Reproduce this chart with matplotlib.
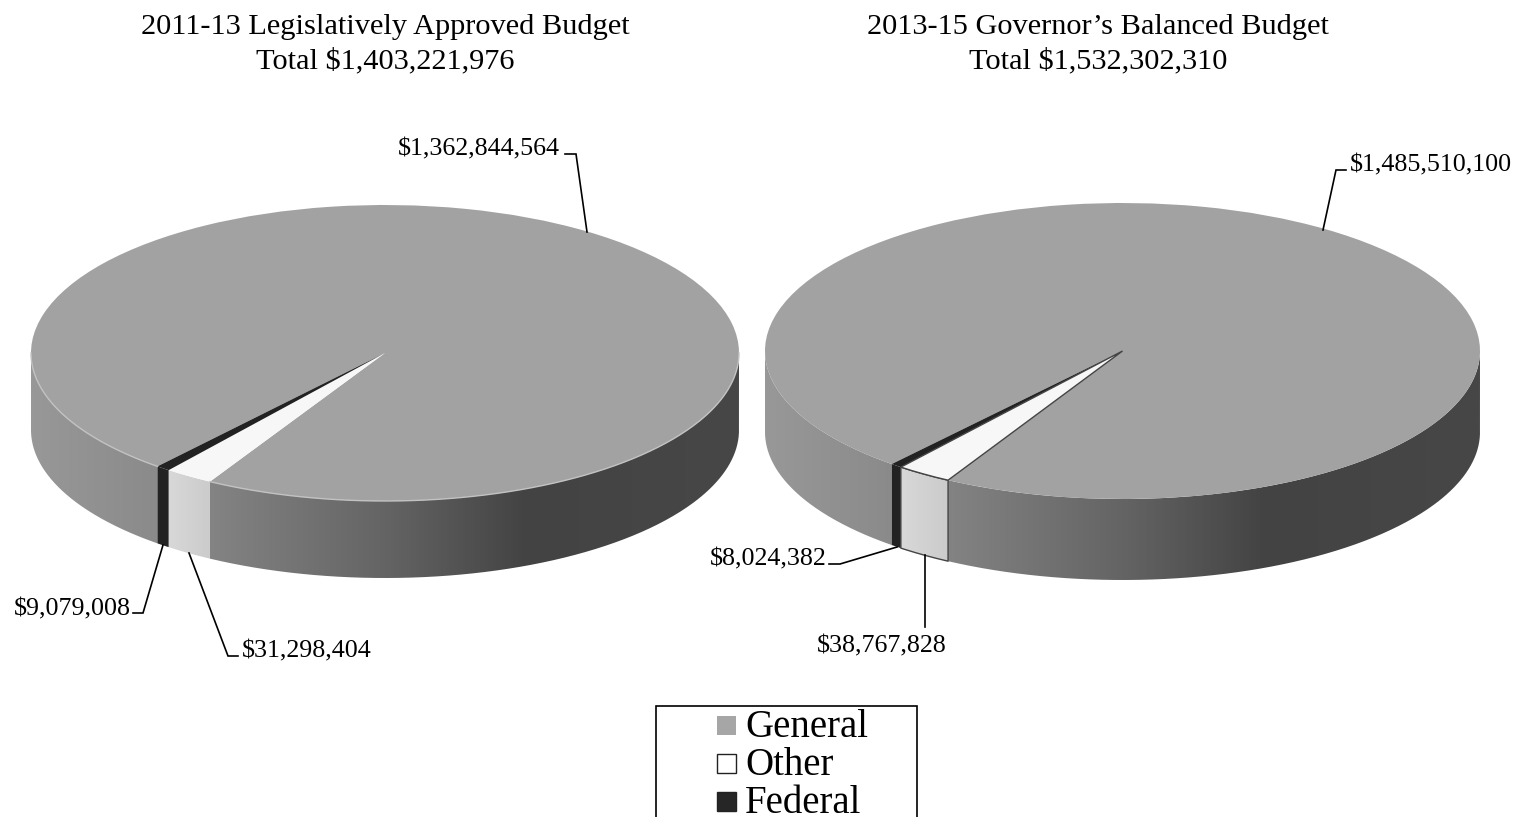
import numpy as np
import matplotlib
matplotlib.use("Agg")
import matplotlib.pyplot as plt
from matplotlib.colors import LinearSegmentedColormap
from matplotlib.patches import PathPatch, Rectangle
from matplotlib.path import Path

# Budget figures by fund
categories = ["General", "Other", "Federal"]
budget_2011_13 = [1362844564, 31298404, 9079008]
budget_2013_15 = [1485510100, 38767828, 8024382]
title_2011_13 = "2011-13 Legislatively Approved Budget"
title_2013_15 = "2013-15 Governor\u2019s Balanced Budget"

W, H = 1524, 817
TOP_COLORS = ["#a2a2a2", "#f7f7f7", "#222222"]
LEGEND_FACE = ["#a6a6a6", "#ffffff", "#262626"]

plt.rcParams["font.family"] = ["Liberation Serif"]
fig = plt.figure(figsize=(W / 100, H / 100), dpi=100, facecolor="white")

# Wall shading as a function of horizontal position across the disc
general_wall = LinearSegmentedColormap.from_list(
    "general_wall",
    [(0.00, "#989898"), (0.18, "#8a8a8a"), (0.25, "#848484"), (0.50, "#646464"),
     (0.70, "#434343"), (1.00, "#474747")],
)
other_wall = LinearSegmentedColormap.from_list(
    "other_wall", [(0.0, "#d8d8d8"), (1.0, "#cbcbcb")]
)


def draw_disc(values, start, cx, cy, rx, ry, depth, outlined, rim):
    x_pad, y_top, y_bot = 1.15, 1.15, 1.9
    ax = fig.add_axes([(cx - x_pad * rx) / W,
                       1 - (cy + y_bot * ry) / H,
                       2 * x_pad * rx / W,
                       (y_top + y_bot) * ry / H])
    wedges, _ = ax.pie(values, colors=TOP_COLORS, startangle=start, counterclock=False,
                       radius=1.0, center=(0, 0), wedgeprops={"linewidth": 0})
    for w in wedges:
        w.set_zorder(5)
    ax.set_aspect("auto")
    ax.set_xlim(-x_pad, x_pad)
    ax.set_ylim(-y_bot, y_top)
    h = depth / ry

    # Front wall: one band per slice, restricted to the near half of the disc
    grad = np.linspace(0, 1, 512).reshape(1, -1)
    for i, w in enumerate(wedges):
        lo, hi = w.theta1, w.theta2
        spans = []
        for shift in (-360, 0, 360):
            a, b = max(lo + shift, 180), min(hi + shift, 360)
            if b > a:
                spans.append((a, b))
        for a, b in spans:
            t = np.radians(np.linspace(a, b, 240))
            xs, ys = np.cos(t), np.sin(t)
            poly = np.vstack([np.c_[xs, ys], np.c_[xs[::-1], ys[::-1] - h], [[xs[0], ys[0]]]])
            patch = PathPatch(Path(poly), transform=ax.transData, facecolor="none", edgecolor="none")
            ax.add_patch(patch)
            if i == 2:
                patch.set_facecolor(TOP_COLORS[2])
                patch.set_zorder(2)
            elif i == 1:
                im = ax.imshow(grad, cmap=other_wall, extent=(xs.min(), xs.max(), -1.9, 0),
                               aspect="auto", zorder=2)
                im.set_clip_path(patch)
            else:
                im = ax.imshow(grad, cmap=general_wall, extent=(-1, 1, -1.9, 0),
                               aspect="auto", zorder=2)
                im.set_clip_path(patch)
            if outlined and i == 1:
                ax.plot(poly[:, 0], poly[:, 1], color="#444444", lw=1.0, zorder=3)
            elif rim and i == 0:
                ax.plot(xs, ys, color="#c2c2c2", lw=1.0, zorder=6)

    if outlined:
        wedges[1].set_edgecolor("#444444")
        wedges[1].set_linewidth(1.0)
        wedges[1].set_zorder(7)
    ax.set_xlim(-x_pad, x_pad)
    ax.set_ylim(-y_bot, y_top)
    ax.set_aspect("auto")
    return ax


draw_disc(budget_2011_13, 230.0, 385, 353, 354, 148, 77, False, True)
draw_disc(budget_2013_15, 229.8, 1122.5, 351, 357.5, 148, 81, True, False)

# Text, leader lines and the key share one pixel-based overlay
ov = fig.add_axes([0, 0, 1, 1], zorder=20)
ov.set_xlim(0, W)
ov.set_ylim(H, 0)
ov.axis("off")

TITLE_SIZE = 21.9
LABEL_SIZE = 18.75


def money(v):
    return f"${v:,}"


for cx, name, vals in ((385, title_2011_13, budget_2011_13), (1098, title_2013_15, budget_2013_15)):
    ov.text(cx, 26.5, name, ha="center", va="center", fontsize=TITLE_SIZE, color="black")
    ov.text(cx, 61, "Total " + money(sum(vals)), ha="center", va="center",
            fontsize=TITLE_SIZE, color="black")

labels = [
    (559.5, 149, "right", budget_2011_13[0], [(565, 154), (576, 154), (587, 232)]),
    (130.5, 609, "right", budget_2011_13[2], [(133, 613), (143, 613), (163, 545)]),
    (242, 651, "left", budget_2011_13[1], [(238, 656), (228, 656), (189, 553)]),
    (1350, 165, "left", budget_2013_15[0], [(1346, 170), (1336, 170), (1323, 230)]),
    (826.5, 559, "right", budget_2013_15[2], [(829, 564), (840, 564), (897, 547)]),
    (882, 646, "center", budget_2013_15[1], [(925, 627), (925, 555)]),
]
for x, y, ha, v, leader in labels:
    ov.text(x, y, money(v), ha=ha, va="center", fontsize=LABEL_SIZE, color="black")
    pts = np.array(leader)
    ov.plot(pts[:, 0], pts[:, 1], color="black", lw=1.2, solid_joinstyle="miter")

# Key; its frame runs past the bottom edge of the figure
ov.add_patch(Rectangle((655.5, 705.5), 261, 130, facecolor="white", edgecolor="black", lw=1.2))
for name, face, y in zip(categories, LEGEND_FACE, (725, 763, 801)):
    ov.add_patch(Rectangle((716.5, y - 9.5), 19, 19, facecolor=face,
                           edgecolor="#222222" if face != LEGEND_FACE[0] else "none",
                           lw=1.0))
    ov.text(745, y + 12, name, ha="left", va="baseline", fontsize=28, color="black")

fig.savefig("out.png", dpi=100, facecolor="white")
